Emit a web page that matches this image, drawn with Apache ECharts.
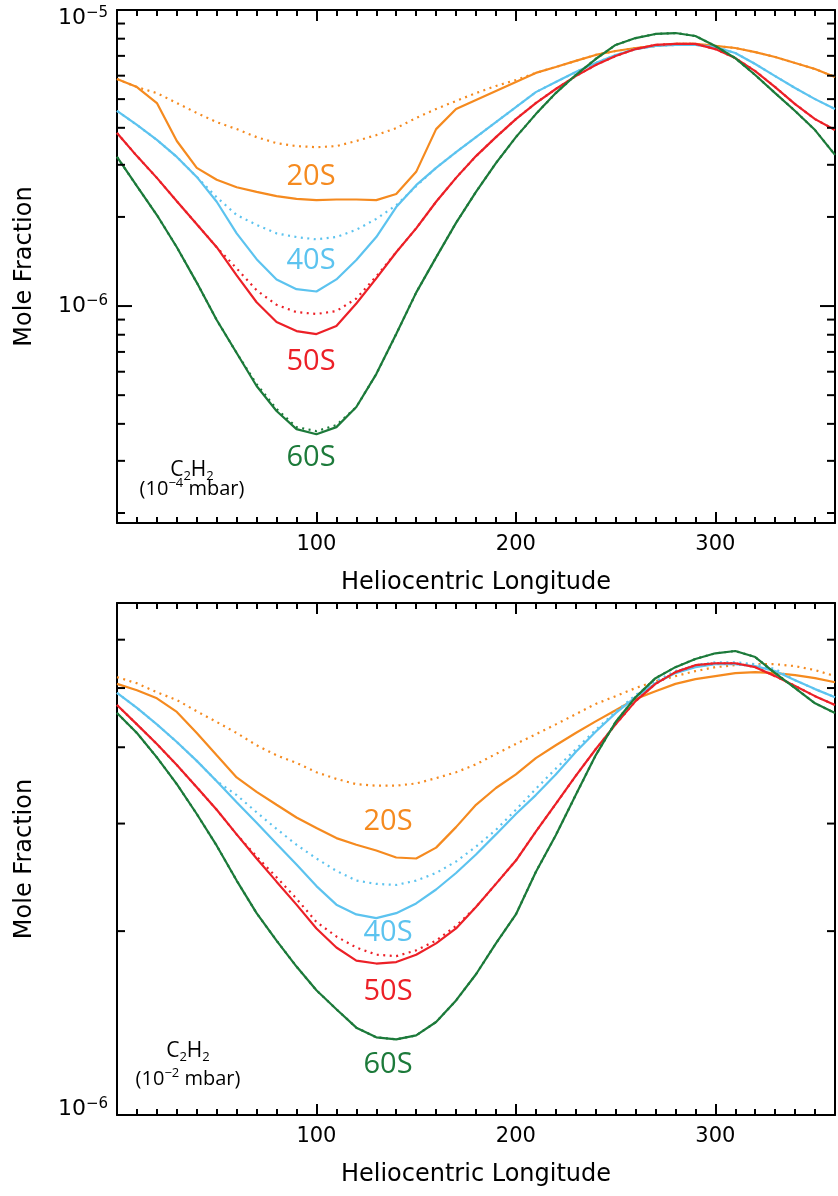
<!DOCTYPE html>
<html>
<head>
<meta charset="utf-8">
<title>C2H2 mole fraction vs heliocentric longitude</title>
<script src="https://cdn.jsdelivr.net/npm/echarts@6/dist/echarts.min.js"></script>
<style>
  html, body { margin: 0; padding: 0; background: #fff; }
  #chart { width: 838px; height: 1196px; }
</style>
</head>
<body>
<div id="chart"></div>
<script>
// Heliocentric longitude grid (degrees)
const longitude = [0, 10, 20, 30, 40, 50, 60, 70, 80, 90, 100, 110, 120, 130, 140, 150, 160, 170, 180,
  190, 200, 210, 220, 230, 240, 250, 260, 270, 280, 290, 300, 310, 320, 330, 340, 350, 360];

// Mole fractions are listed in units of 1e-6
const UNIT = 1e-6;

// C2H2 at 1e-4 mbar : solid = model run, dotted = companion run
const p4_20S = [5.85, 5.49, 4.85, 3.61, 2.93, 2.67, 2.52, 2.43, 2.35, 2.30, 2.28, 2.29, 2.29, 2.28, 2.39, 2.84, 3.96, 4.63, 4.97,
  5.33, 5.71, 6.13, 6.42, 6.73, 7.05, 7.27, 7.44, 7.56, 7.68, 7.68, 7.56, 7.44, 7.21, 6.94, 6.62, 6.32, 5.94];
const p4_20S_dot = [5.85, 5.49, 5.24, 4.85, 4.49, 4.18, 3.96, 3.72, 3.55, 3.47, 3.44, 3.47, 3.61, 3.78, 3.99, 4.32, 4.63, 4.93, 5.24,
  5.54, 5.80, 6.13, 6.42, 6.73, 7.05, 7.27, 7.44, 7.56, 7.68, 7.68, 7.56, 7.44, 7.21, 6.94, 6.62, 6.32, 5.94];
const p4_40S = [4.56, 4.09, 3.64, 3.19, 2.73, 2.25, 1.76, 1.44, 1.23, 1.14, 1.12, 1.23, 1.43, 1.71, 2.16, 2.56, 2.93, 3.31, 3.72,
  4.18, 4.70, 5.28, 5.71, 6.17, 6.62, 7.05, 7.38, 7.56, 7.62, 7.62, 7.50, 7.16, 6.57, 5.98, 5.45, 5.00, 4.63];
const p4_40S_dot = [4.56, 4.09, 3.64, 3.19, 2.73, 2.33, 2.03, 1.88, 1.76, 1.71, 1.68, 1.71, 1.81, 1.97, 2.19, 2.54, 2.93, 3.31, 3.72,
  4.18, 4.70, 5.28, 5.71, 6.17, 6.62, 7.05, 7.38, 7.56, 7.62, 7.62, 7.50, 7.16, 6.57, 5.98, 5.45, 5.00, 4.63];
const p4_50S = [3.84, 3.21, 2.71, 2.26, 1.89, 1.58, 1.27, 1.03, 0.883, 0.823, 0.804, 0.856, 1.02, 1.24, 1.52, 1.83, 2.25, 2.71, 3.21,
  3.72, 4.28, 4.85, 5.41, 5.98, 6.52, 6.99, 7.38, 7.62, 7.68, 7.68, 7.38, 6.88, 6.22, 5.49, 4.81, 4.28, 3.93];
const p4_50S_dot = [3.84, 3.21, 2.71, 2.26, 1.89, 1.58, 1.34, 1.13, 1.01, 0.954, 0.940, 0.962, 1.06, 1.26, 1.52, 1.83, 2.25, 2.71, 3.21,
  3.72, 4.28, 4.85, 5.41, 5.98, 6.52, 6.99, 7.38, 7.62, 7.68, 7.68, 7.38, 6.88, 6.22, 5.49, 4.81, 4.28, 3.93];
const p4_60S = [3.19, 2.54, 2.03, 1.58, 1.20, 0.897, 0.694, 0.537, 0.442, 0.384, 0.369, 0.390, 0.456, 0.589, 0.804, 1.11, 1.46, 1.91, 2.43,
  3.04, 3.72, 4.45, 5.24, 6.03, 6.83, 7.62, 8.04, 8.30, 8.36, 8.17, 7.56, 6.88, 6.03, 5.24, 4.56, 3.93, 3.24];
const p4_60S_dot = [3.19, 2.54, 2.03, 1.58, 1.20, 0.897, 0.694, 0.545, 0.449, 0.390, 0.378, 0.396, 0.456, 0.589, 0.804, 1.11, 1.46, 1.91, 2.43,
  3.04, 3.72, 4.45, 5.24, 6.03, 6.83, 7.62, 8.04, 8.30, 8.36, 8.17, 7.56, 6.88, 6.03, 5.24, 4.56, 3.93, 3.24];

// C2H2 at 1e-2 mbar
const p2_20S = [5.08, 4.96, 4.81, 4.57, 4.22, 3.88, 3.57, 3.38, 3.22, 3.07, 2.95, 2.84, 2.77, 2.71, 2.64, 2.63, 2.74, 2.96, 3.22,
  3.43, 3.61, 3.84, 4.03, 4.22, 4.41, 4.60, 4.80, 4.94, 5.08, 5.17, 5.23, 5.29, 5.31, 5.29, 5.25, 5.19, 5.11];
const p2_20S_dot = [5.21, 5.09, 4.92, 4.78, 4.58, 4.40, 4.22, 4.03, 3.88, 3.77, 3.64, 3.55, 3.48, 3.46, 3.46, 3.49, 3.56, 3.64, 3.75,
  3.90, 4.05, 4.20, 4.36, 4.53, 4.71, 4.85, 5.00, 5.13, 5.23, 5.33, 5.41, 5.45, 5.47, 5.47, 5.43, 5.35, 5.23];
const p2_40S = [4.91, 4.64, 4.36, 4.08, 3.80, 3.52, 3.25, 3.01, 2.78, 2.57, 2.37, 2.21, 2.13, 2.10, 2.14, 2.22, 2.34, 2.49, 2.67,
  2.88, 3.11, 3.34, 3.61, 3.93, 4.24, 4.55, 4.83, 5.09, 5.29, 5.41, 5.47, 5.47, 5.43, 5.33, 5.15, 4.98, 4.83];
const p2_40S_dot = [4.91, 4.64, 4.36, 4.08, 3.80, 3.52, 3.34, 3.13, 2.94, 2.77, 2.63, 2.51, 2.42, 2.39, 2.38, 2.42, 2.49, 2.60, 2.75,
  2.93, 3.16, 3.42, 3.69, 3.97, 4.27, 4.57, 4.87, 5.13, 5.33, 5.45, 5.51, 5.51, 5.47, 5.37, 5.15, 4.98, 4.83];
const p2_50S = [4.69, 4.36, 4.05, 3.74, 3.44, 3.16, 2.88, 2.63, 2.41, 2.21, 2.02, 1.88, 1.79, 1.77, 1.78, 1.83, 1.91, 2.02, 2.19,
  2.39, 2.61, 2.91, 3.23, 3.59, 3.97, 4.36, 4.76, 5.08, 5.31, 5.45, 5.49, 5.49, 5.41, 5.23, 5.04, 4.85, 4.69];
const p2_50S_dot = [4.69, 4.36, 4.05, 3.74, 3.44, 3.16, 2.88, 2.65, 2.45, 2.26, 2.07, 1.96, 1.88, 1.83, 1.82, 1.86, 1.93, 2.04, 2.19,
  2.39, 2.61, 2.91, 3.23, 3.59, 3.97, 4.36, 4.76, 5.08, 5.31, 5.45, 5.49, 5.49, 5.41, 5.23, 5.04, 4.85, 4.69];
const p2_60S = [4.55, 4.22, 3.85, 3.48, 3.11, 2.76, 2.42, 2.14, 1.93, 1.75, 1.60, 1.49, 1.39, 1.34, 1.33, 1.35, 1.42, 1.54, 1.70,
  1.91, 2.13, 2.50, 2.87, 3.34, 3.88, 4.40, 4.83, 5.19, 5.41, 5.58, 5.70, 5.75, 5.62, 5.29, 5.00, 4.72, 4.55];
const p2_60S_dot = p2_60S.slice();

// Axis ranges and tick marks (mole fraction)
const topRange = [1.85e-7, 1e-5];
const bottomRange = [1e-6, 6.89e-6];
const topMajorTicks = [1e-6, 1e-5];
const topMajorExp = ['\u22126', '\u22125'];
const topMinorTicks = [2e-7, 3e-7, 4e-7, 5e-7, 6e-7, 7e-7, 8e-7, 9e-7, 2e-6, 3e-6, 4e-6, 5e-6, 6e-6, 7e-6, 8e-6, 9e-6];
const bottomMajorTicks = [1e-6];
const bottomMajorExp = ['\u22126'];
const bottomMinorTicks = [2e-6, 3e-6, 4e-6, 5e-6, 6e-6];
const xLabelValues = [100, 200, 300];

const latitudes = ['20S', '40S', '50S', '60S'];
const colors = { '20S': '#F58A1F', '40S': '#5CC3EF', '50S': '#EC2027', '60S': '#1C7A3A' };

const AXIS_FONT = '"DejaVu Sans", "Liberation Sans", sans-serif';
const NOTE_FONT = '"Open Sans", "Noto Sans", sans-serif';

const panels = [
  { grid: { left: 117, top: 10, width: 722, height: 513 }, range: topRange,
    major: topMajorTicks, exp: topMajorExp, minor: topMinorTicks,
    solid: { '20S': p4_20S, '40S': p4_40S, '50S': p4_50S, '60S': p4_60S },
    dotted: { '20S': p4_20S_dot, '40S': p4_40S_dot, '50S': p4_50S_dot, '60S': p4_60S_dot } },
  { grid: { left: 117, top: 603, width: 722, height: 512 }, range: bottomRange,
    major: bottomMajorTicks, exp: bottomMajorExp, minor: bottomMinorTicks,
    solid: { '20S': p2_20S, '40S': p2_40S, '50S': p2_50S, '60S': p2_60S },
    dotted: { '20S': p2_20S_dot, '40S': p2_40S_dot, '50S': p2_50S_dot, '60S': p2_60S_dot } }
];

const black = '#000';
const xAxis = [], yAxis = [], series = [];

panels.forEach((p, gi) => {
  const base = { gridIndex: gi, type: 'value', min: 0, max: 360, splitLine: { show: false } };
  const xMinor = xAxis.length;
  // minor ticks every 10 degrees, bottom and top
  xAxis.push(Object.assign({}, base, {
    position: 'bottom', interval: 10,
    axisLine: { show: true, onZero: false, lineStyle: { color: black, width: 2 } },
    axisTick: { show: true, inside: true, length: 6, lineStyle: { color: black, width: 2 } },
    axisLabel: { show: false }
  }));
  xAxis.push(Object.assign({}, base, {
    position: 'bottom', interval: 100,
    axisLine: { show: false, onZero: false },
    axisTick: { show: true, inside: true, length: 11, lineStyle: { color: black, width: 2 } },
    axisLabel: {
      show: true, margin: 22, verticalAlign: 'middle', fontSize: 21, color: black, fontFamily: AXIS_FONT,
      formatter: v => (xLabelValues.indexOf(v) >= 0 ? String(v) : '')
    },
    name: 'Heliocentric Longitude', nameLocation: 'middle', nameGap: 60,
    nameTextStyle: { fontSize: 24, color: black, fontFamily: AXIS_FONT, verticalAlign: 'middle' }
  }));
  xAxis.push(Object.assign({}, base, {
    position: 'top', interval: 10,
    axisLine: { show: true, onZero: false, lineStyle: { color: black, width: 2 } },
    axisTick: { show: true, inside: true, length: 6, lineStyle: { color: black, width: 2 } },
    axisLabel: { show: false }
  }));
  xAxis.push(Object.assign({}, base, {
    position: 'top', interval: 100,
    axisLine: { show: false, onZero: false },
    axisTick: { show: true, inside: true, length: 11, lineStyle: { color: black, width: 2 } },
    axisLabel: { show: false }
  }));

  const yLeft = yAxis.length;
  const yBase = { gridIndex: gi, type: 'log', logBase: 10, min: p.range[0], max: p.range[1],
    splitLine: { show: false }, axisTick: { show: false }, axisLabel: { show: false } };
  yAxis.push(Object.assign({}, yBase, {
    position: 'left',
    axisLine: { show: true, onZero: false, lineStyle: { color: black, width: 2 } },
    name: 'Mole Fraction', nameLocation: 'middle', nameGap: 92, nameRotate: 90,
    nameTextStyle: { fontSize: 24, color: black, fontFamily: AXIS_FONT, verticalAlign: 'middle' }
  }));
  yAxis.push(Object.assign({}, yBase, {
    position: 'right',
    axisLine: { show: true, onZero: false, lineStyle: { color: black, width: 2 } }
  }));

  // curves: solid and dotted for each latitude
  latitudes.forEach(lat => {
    const c = colors[lat];
    series.push({
      type: 'line', name: lat + ' solid', xAxisIndex: xMinor, yAxisIndex: yLeft,
      showSymbol: false, silent: true, animation: false,
      lineStyle: { color: c, width: 2.2 },
      data: longitude.map((x, i) => [x, p.solid[lat][i] * UNIT])
    });
    series.push({
      type: 'line', name: lat + ' dotted', xAxisIndex: xMinor, yAxisIndex: yLeft,
      showSymbol: false, silent: true, animation: false,
      lineStyle: { color: c, width: 2.2, type: [2, 4.5] },
      data: longitude.map((x, i) => [x, p.dotted[lat][i] * UNIT])
    });
  });

  // logarithmic tick marks on both vertical sides, with labels at the decades
  const tickData = p.minor.map(v => [0, v, 0, -1]).concat(p.major.map((v, k) => [0, v, 1, k]));
  series.push({
    type: 'custom', xAxisIndex: xMinor, yAxisIndex: yLeft, silent: true, clip: false, animation: false, z: 10,
    data: tickData,
    renderItem: (params, api) => {
      const v = api.value(1);
      const major = api.value(2) === 1;
      const k = api.value(3);
      const left = api.coord([0, v]);
      const right = api.coord([360, v]);
      const len = major ? 15 : 8;
      const cs = params.coordSys;
      const children = [
        { type: 'line', shape: { x1: left[0], y1: left[1], x2: left[0] + len, y2: left[1] },
          style: { stroke: black, lineWidth: 2 } },
        { type: 'line', shape: { x1: right[0], y1: right[1], x2: right[0] - len, y2: right[1] },
          style: { stroke: black, lineWidth: 2 } }
      ];
      if (major) {
        const ly = Math.min(Math.max(left[1], cs.y + 8), cs.y + cs.height - 6);
        children.push({
          type: 'text',
          style: {
            x: left[0] - 9, y: ly, align: 'right', verticalAlign: 'middle',
            text: '{n|10}{s|' + p.exp[k] + '}',
            rich: {
              n: { font: '22px ' + AXIS_FONT, fill: black, lineHeight: 24 },
              s: { font: '15px ' + AXIS_FONT, fill: black, verticalAlign: 'top', lineHeight: 15 }
            }
          }
        });
      }
      return { type: 'group', children: children };
    }
  });
});

// latitude tags and species / pressure notes
const notes = [
  { text: '20S', x: 311, y: 177, color: colors['20S'] },
  { text: '40S', x: 311, y: 261, color: colors['40S'] },
  { text: '50S', x: 311, y: 362, color: colors['50S'] },
  { text: '60S', x: 311, y: 458, color: colors['60S'] },
  { text: '20S', x: 388, y: 822, color: colors['20S'] },
  { text: '40S', x: 388, y: 933, color: colors['40S'] },
  { text: '50S', x: 388, y: 992, color: colors['50S'] },
  { text: '60S', x: 388, y: 1065, color: colors['60S'] }
];
const species = [
  { x: 192, y: 470, pressure: '\u22124', py: 489 },
  { x: 188, y: 1051, pressure: '\u22122', py: 1079 }
];

const graphic = notes.map(n => ({
  type: 'text', x: n.x, y: n.y, silent: true,
  style: { text: n.text, fill: n.color, font: '29px ' + NOTE_FONT, align: 'center', verticalAlign: 'middle' }
}));
species.forEach(s => {
  graphic.push({
    type: 'text', x: s.x, y: s.y, silent: true,
    style: {
      text: '{m|C}{u|2}{m|H}{u|2}', align: 'center', verticalAlign: 'middle',
      rich: {
        m: { font: '21px ' + NOTE_FONT, fill: black, lineHeight: 26 },
        u: { font: '13px ' + NOTE_FONT, fill: black, verticalAlign: 'bottom', lineHeight: 13 }
      }
    }
  });
  graphic.push({
    type: 'text', x: s.x, y: s.py, silent: true,
    style: {
      text: '{m|(10}{e|' + s.pressure + '}{m| mbar)}', align: 'center', verticalAlign: 'middle',
      rich: {
        m: { font: '20px ' + NOTE_FONT, fill: black, lineHeight: 24 },
        e: { font: '13px ' + NOTE_FONT, fill: black, verticalAlign: 'top', lineHeight: 13 }
      }
    }
  });
});

const chart = echarts.init(document.getElementById('chart'), null, { renderer: 'canvas' });
chart.setOption({
  backgroundColor: '#fff',
  animation: false,
  grid: panels.map(p => p.grid),
  xAxis: xAxis,
  yAxis: yAxis,
  series: series,
  graphic: graphic
});
</script>
</body>
</html>
